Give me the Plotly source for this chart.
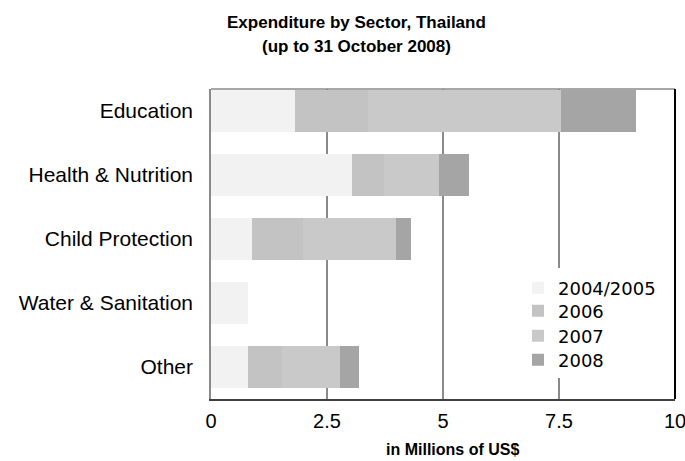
import plotly.graph_objects as go

categories = ["Education", "Health & Nutrition", "Child Protection", "Water & Sanitation", "Other"]
series_names = ["2004/2005", "2006", "2007", "2008"]
v2004_2005 = [1.81, 3.03, 0.88, 0.80, 0.80]
v2006 = [1.57, 0.69, 1.10, 0.0, 0.72]
v2007 = [4.16, 1.20, 2.00, 0.0, 1.25]
v2008 = [1.63, 0.63, 0.32, 0.0, 0.41]
colors = ["#f2f2f2", "#c3c3c3", "#c9c9c9", "#a5a5a5"]
xticks = [0, 2.5, 5, 7.5, 10]
xticklabels = ["0", "2.5", "5", "7.5", "10"]

W, H = 685, 461
L, R, T, B = 211, 10, 89, 62
PW = W - L - R
PH = H - T - B

def py(px):
    return (H - B - px) / PH

def pxx(px):
    return (px - L) / PW

legend_ids = ["legend", "legend2", "legend3", "legend4"]
legend_rows = [288, 311, 336, 360]

fig = go.Figure()
for name, vals, col, lid in zip(series_names, [v2004_2005, v2006, v2007, v2008], colors, legend_ids):
    fig.add_trace(go.Bar(
        y=categories, x=vals, name=name, orientation="h",
        marker=dict(color=col, line=dict(width=0)), width=0.65, legend=lid,
    ))

layout_legends = {}
for lid, row in zip(legend_ids, legend_rows):
    layout_legends[lid] = dict(
        x=pxx(518), y=py(row), xanchor="left", yanchor="middle",
        bgcolor="rgba(0,0,0,0)", borderwidth=0,
        font=dict(family="DejaVu Sans", size=18, color="black"),
        itemwidth=30,
    )

fig.update_layout(
    barmode="stack",
    width=W, height=H,
    margin=dict(l=L, r=R, t=T, b=B, autoexpand=False),
    paper_bgcolor="white", plot_bgcolor="white",
    showlegend=True,
    **layout_legends,
)
fig.update_xaxes(
    range=[0, 10], tickvals=xticks, ticktext=xticklabels,
    showgrid=True, gridcolor="#8a8a8a", gridwidth=1.5,
    showline=True, linecolor="#404040", linewidth=1.5,
    ticks="", ticklabelstandoff=3, automargin=False, ticklabeloverflow="allow",
    tickfont=dict(family="Liberation Sans, Arial", size=20, color="black"),
    zeroline=False,
)
fig.update_yaxes(
    categoryorder="array", categoryarray=categories[::-1],
    range=[-0.5, 4.34], automargin=False,
    showgrid=False, showline=True, linecolor="#8a8a8a", linewidth=1.5,
    ticks="", ticklabelstandoff=12,
    tickfont=dict(family="Liberation Sans, Arial", size=21, color="black"),
)
# white box behind the legend (hides gridline)
fig.add_shape(type="rect", xref="paper", yref="paper",
              x0=pxx(530), x1=pxx(668), y0=py(378), y1=py(268),
              fillcolor="white", line=dict(width=0), layer="above")
fig.add_shape(type="line", xref="paper", yref="paper", x0=0, x1=1, y0=1, y1=1,
              line=dict(color="#8a8a8a", width=1.5))
fig.add_shape(type="line", xref="paper", yref="paper", x0=1, x1=1, y0=0, y1=1,
              line=dict(color="black", width=2))

title_font = dict(family="Liberation Sans, Arial", size=17, color="black")
fig.add_annotation(text="<b>Expenditure by Sector, Thailand</b>", xref="paper", yref="paper",
                   x=pxx(356), y=py(22), xanchor="center", yanchor="middle",
                   showarrow=False, font=title_font)
fig.add_annotation(text="<b>(up to 31 October 2008)</b>", xref="paper", yref="paper",
                   x=pxx(356), y=py(47), xanchor="center", yanchor="middle",
                   showarrow=False, font=title_font)
fig.add_annotation(
    text="<b>in Millions of US$</b>", xref="paper", yref="paper",
    x=pxx(452), y=py(449), xanchor="center", yanchor="middle", showarrow=False,
    font=dict(family="Liberation Sans, Arial", size=16, color="black"),
)
fig.write_html("out.html")
